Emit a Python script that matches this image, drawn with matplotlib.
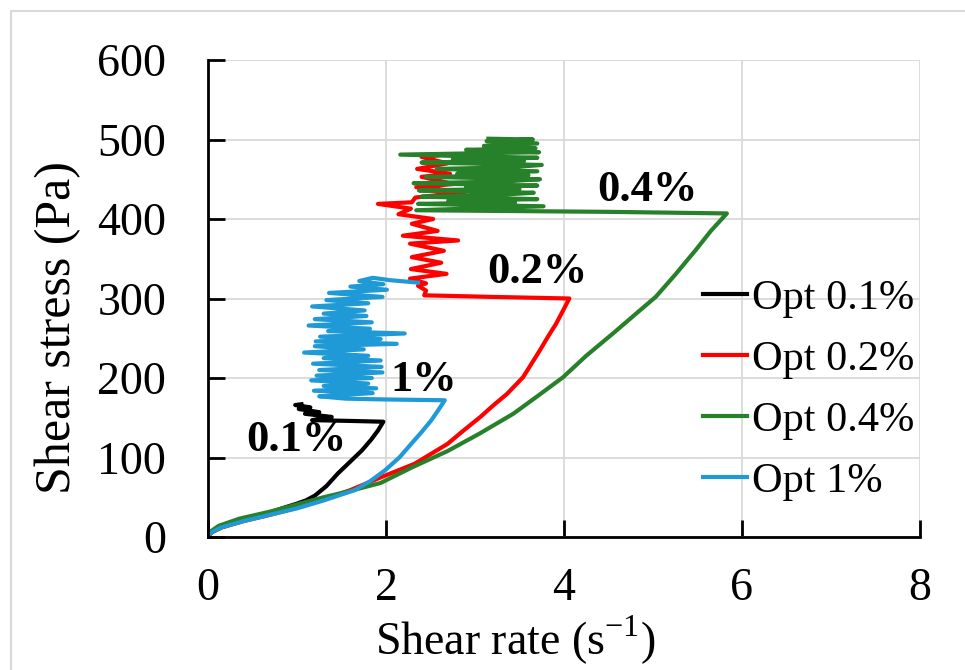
import matplotlib
matplotlib.use('Agg')
import matplotlib.pyplot as plt
from matplotlib.patches import Rectangle

# * ----- Data --------------------------------------------------------------
# Opt 0.1 %
opt01_x = [0, 0.04, 0.15, 0.4, 0.65, 0.83, 1.0, 1.1, 1.2, 1.33, 1.46, 1.6, 1.73, 1.83, 1.91, 1.97,
           1.6, 1.17, 1.39, 1.09, 1.25, 1.02, 1.15, 0.98, 1.05]
opt01_y = [0, 6, 12, 21, 29, 36, 42, 46, 52, 64, 80, 95, 109, 122, 134, 145,
           146, 147, 151, 155, 157, 161, 163, 166, 167]

# Opt 0.2 %
opt02_x = [0, 0.04, 0.15, 0.4, 0.7, 1.0, 1.3, 1.6, 1.94, 2.32, 2.69, 2.85, 3.06, 3.2, 3.36,
           3.54, 3.73, 3.82, 3.91, 3.99, 4.06, 3.2, 2.43,
           2.45, 2.36, 2.45, 2.27, 2.68, 2.28, 2.62, 2.29, 2.65, 2.27, 2.81, 2.19,
           2.58, 2.29, 2.53, 2.14, 2.28, 1.91, 2.29, 2.33, 2.89, 2.34, 2.76, 2.40,
           2.72, 2.35, 2.69, 2.40, 2.58]
opt02_y = [0, 6, 12, 20, 28, 37, 47, 59, 75, 92, 117, 132, 151, 165, 180,
           201, 235, 252, 268, 285, 300, 302, 304,
           310, 316, 319, 325, 331, 337, 345, 352, 360, 369, 373, 379,
           385, 394, 400, 406, 413, 419, 421, 427, 434, 440, 444, 453,
           457, 463, 470, 478, 480]

# Opt 0.4 %
opt04_x = [0, 0.03, 0.12, 0.35, 0.7, 1.0, 1.3, 1.6, 1.94, 2.3, 2.69, 3.05, 3.43,
           3.7, 3.99, 4.25, 4.55, 4.8, 5.03, 5.25, 5.48, 5.65, 5.83, 4.5, 2.34,
           3.77, 2.36, 3.45, 2.70, 3.70, 2.40, 3.20, 3.66, 2.37, 3.50, 2.90, 3.70,
           2.31, 3.30, 3.73, 2.45, 3.60, 2.80, 3.70, 2.57, 3.40, 3.75, 2.40, 3.55,
           2.75, 3.70, 2.16, 3.72, 2.90, 3.68, 3.10, 3.70, 3.13, 3.65, 3.15]
opt04_y = [0, 7, 14, 23, 32, 41, 50, 58, 68, 88, 108, 130, 155,
           177, 201, 228, 256, 280, 302, 330, 361, 385, 407, 409, 411,
           416, 419, 421, 423, 425, 428, 430, 433, 436, 438, 440, 442,
           445, 447, 450, 453, 455, 457, 460, 463, 465, 468, 471, 473,
           475, 477, 481, 484, 487, 489, 492, 495, 498, 500, 501]

# Opt 1 %
opt1_x = [0, 0.04, 0.15, 0.4, 0.7, 1.0, 1.3, 1.65, 1.82, 1.99, 2.15, 2.29, 2.4, 2.51, 2.59, 2.66,
          2.0, 1.55,
          1.25, 1.85, 1.19, 1.89, 1.30, 1.80, 1.16, 1.84, 1.22, 1.96, 1.25, 1.95,
          1.18, 1.94, 1.30, 1.80, 1.08, 1.75, 1.20, 2.12, 1.21, 1.94, 1.26, 2.21,
          1.35, 1.82, 1.13, 1.84, 1.20, 1.78, 1.30, 1.76, 1.17, 1.80, 1.33, 1.96,
          1.36, 2.01, 1.60, 1.97, 1.70, 1.85, 2.05, 2.36]
opt1_y = [0, 6, 12, 20, 28, 36, 46, 59, 70, 84, 100, 118, 132, 147, 160, 172,
          173, 174,
          177, 181, 184, 187, 190, 193, 197, 200, 203, 207, 210, 214,
          218, 222, 225, 228, 232, 236, 240, 243, 246, 249, 252, 256,
          259, 262, 266, 270, 274, 278, 281, 285, 290, 294, 298, 302,
          307, 311, 315, 318, 322, 326, 323, 320]

series_labels = ['Opt 0.1%', 'Opt 0.2%', 'Opt 0.4%', 'Opt 1%']
series_colors = ['#000000', '#ff0000', '#27802a', '#1f9ad6']

# text labels on the curves: (text, x, y)
curve_notes = [('0.4%', 4.94, 436), ('0.2%', 3.70, 333),
               ('1%', 2.42, 197), ('0.1%', 0.99, 122)]

x_ticks = [0, 2, 4, 6, 8]
y_ticks = [0, 100, 200, 300, 400, 500, 600]


# * ----- Plot ----------------------------------------------------------------
plt.rcParams['font.family'] = ['Liberation Serif', 'DejaVu Serif']
plt.rcParams['mathtext.fontset'] = 'custom'
plt.rcParams['mathtext.rm'] = 'Liberation Serif'

W, H = 965, 670
fig = plt.figure(figsize=(W / 100, H / 100), dpi=100)
fig.patches.append(Rectangle((11 / W, -0.1), 2, 1 - 11 / H + 0.1, transform=fig.transFigure,
                             fill=False, edgecolor='#d9d9d9', lw=1.5))

ax = fig.add_axes([208 / W, 1 - 537 / H, (920 - 208) / W, (537 - 60) / H])

for xs, ys, lab, col in zip([opt01_x, opt02_x, opt04_x, opt1_x],
                            [opt01_y, opt02_y, opt04_y, opt1_y],
                            series_labels, series_colors):
    ax.plot(xs, ys, color=col, lw=3, label=lab, solid_joinstyle='round')

for txt, tx, ty in curve_notes:
    ax.text(tx, ty, txt, fontsize=32, fontweight='bold', ha='center', va='center')

ax.set_xlim(0, 8)
ax.set_ylim(0, 600)
ax.set_xticks(x_ticks)
ax.set_yticks(y_ticks)
ax.grid(color='#d9d9d9', lw=1.3)
ax.set_axisbelow(True)
for s in ['top', 'right']:
    ax.spines[s].set_visible(False)
for s in ['left', 'bottom']:
    ax.spines[s].set_linewidth(2)
ax.tick_params(direction='in', length=12, width=2, labelsize=33)
ax.tick_params(axis='x', pad=22)
ax.tick_params(axis='y', pad=30)

ax.set_xlabel(r'Shear rate (s$^{\mathregular{-1}}$)', fontsize=33)
ax.xaxis.set_label_coords((515 - 208) / 712, (537 - 640) / 477)
ax.xaxis.label.set_va('center')
ax.set_ylabel('Shear stress (Pa)', fontsize=36)
ax.yaxis.set_label_coords((58 - 208) / 712, (537 - 327) / 477)
ax.yaxis.label.set_va('center')

ax.legend(loc='upper left', bbox_to_anchor=(703 / W, 1 - 279 / H), bbox_transform=fig.transFigure,
          frameon=False, fontsize=30.5, handlelength=1.05, handletextpad=0.1,
          labelspacing=0.53, borderpad=0, borderaxespad=0)

fig.savefig('out.png', dpi=100)
